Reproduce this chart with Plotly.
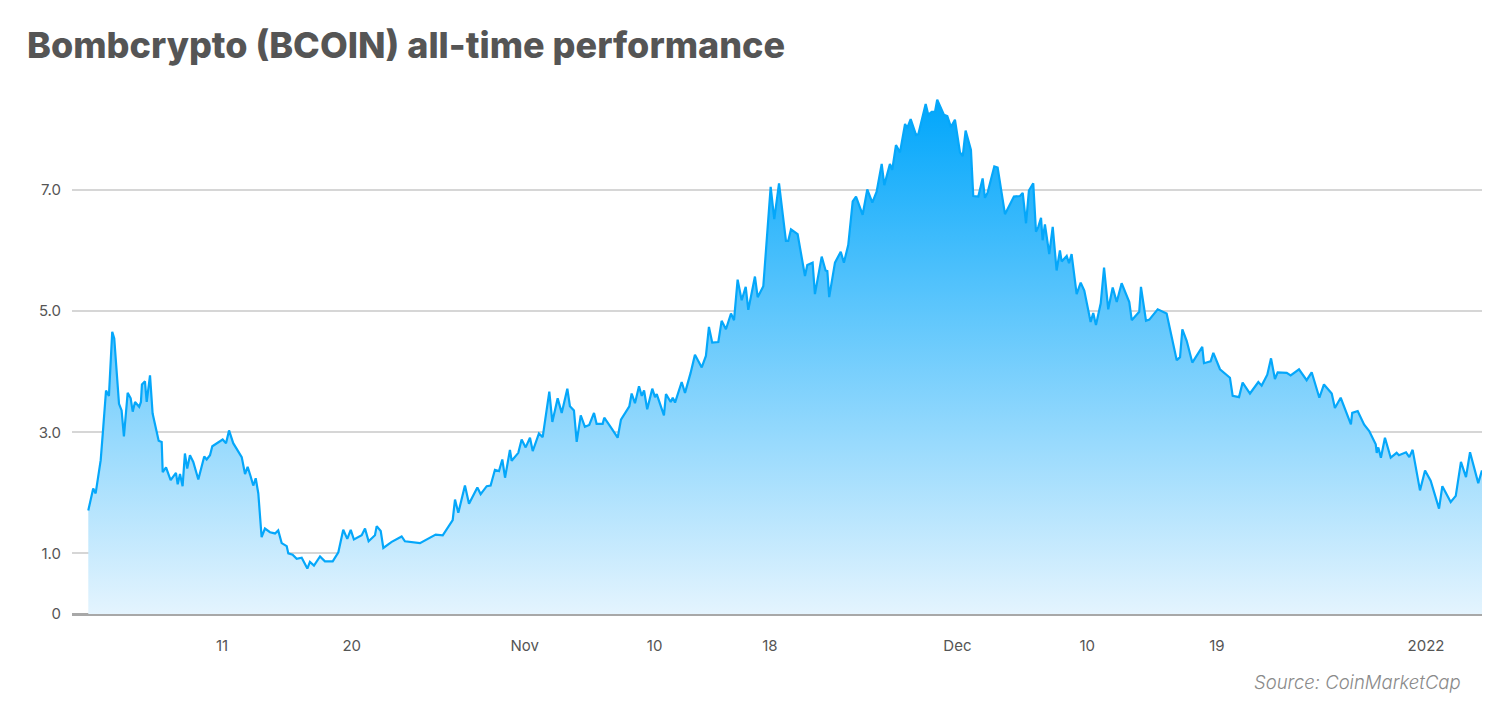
import pandas as pd
import plotly.graph_objects as go

# Days after 2021-10-11 00:00 and BCOIN price (USD)
days = [
    -9.27, -8.93, -8.76, -8.58, -8.41, -8.23, -8.04, -7.84, -7.61, -7.47,
    -7.30, -7.14, -6.96, -6.80, -6.54, -6.33, -6.19, -6.03, -5.74, -5.62,
    -5.55, -5.34, -5.22, -4.99, -4.81, -4.65, -4.39, -4.18, -4.11, -3.88,
    -3.56, -3.19, -3.07, -2.91, -2.73, -2.57, -2.41, -2.22, -1.99, -1.64,
    -1.41, -1.23, -1.06, -0.83, -0.67, -0.26, 0.05, 0.28, 0.49, 0.78,
    1.02, 1.37, 1.60, 1.78, 1.99, 2.17, 2.34, 2.52, 2.75, 2.98,
    3.33, 3.68, 3.90, 4.14, 4.49, 4.60, 4.90, 5.18, 5.53, 5.92,
    6.10, 6.38, 6.80, 7.14, 7.68, 8.07, 8.41, 8.69, 8.93, 9.15,
    9.69, 9.92, 10.17, 10.61, 10.73, 11.01, 11.19, 11.77, 12.46, 12.69,
    13.73, 14.82, 15.31, 16.00, 16.16, 16.39, 16.85, 17.13, 17.71, 17.94,
    18.36, 18.63, 18.93, 19.21, 19.44, 19.63, 19.97, 20.09, 20.55, 20.78,
    21.06, 21.36, 21.55, 21.98, 22.24, 22.70, 22.91, 23.28, 23.56, 23.95,
    24.13, 24.41, 24.60, 24.88, 25.17, 25.47, 25.80, 25.98, 26.40, 26.51,
    27.03, 27.44, 27.67, 28.25, 28.41, 28.64, 28.92, 29.11, 29.27, 29.49,
    29.84, 30.03, 30.15, 30.37, 30.65, 30.79, 31.12, 31.26, 31.42, 31.88,
    32.11, 32.50, 32.80, 33.27, 33.56, 33.77, 34.00, 34.42, 34.65, 34.95,
    35.30, 35.51, 35.76, 36.04, 36.32, 36.50, 36.96, 37.15, 37.54, 38.05,
    38.30, 38.63, 39.11, 39.27, 39.46, 39.92, 40.43, 40.59, 40.96, 41.12,
    41.59, 41.86, 41.98, 42.11, 42.51, 42.91, 43.13, 43.43, 43.74, 43.97,
    44.43, 44.75, 45.10, 45.40, 45.75, 45.93, 46.32, 46.48, 46.74, 47.02,
    47.37, 47.52, 47.76, 48.13, 48.29, 48.80, 48.98, 49.22, 49.45, 49.60,
    50.07, 50.30, 50.55, 50.83, 51.18, 51.37, 51.57, 51.94, 52.10, 52.45,
    52.75, 52.91, 53.10, 53.56, 53.79, 54.30, 54.92, 55.34, 55.53, 55.76,
    55.96, 56.26, 56.45, 56.61, 56.80, 56.91, 57.07, 57.37, 57.61, 57.88,
    58.11, 58.23, 58.58, 58.74, 58.92, 59.27, 59.55, 59.80, 60.24, 60.42,
    60.61, 60.94, 61.17, 61.46, 61.77, 62.05, 62.39, 62.92, 63.09, 63.61,
    63.73, 64.08, 64.31, 64.89, 65.51, 66.21, 66.44, 66.60, 66.90, 67.29,
    67.98, 68.10, 68.56, 68.75, 69.21, 69.90, 70.09, 70.53, 70.78, 71.29,
    71.87, 72.10, 72.49, 72.75, 73.02, 73.21, 73.84, 74.11, 74.69, 75.22,
    75.57, 76.10, 76.42, 76.96, 77.18, 77.58, 78.29, 78.38, 78.76, 79.20,
    79.56, 80.01, 80.08, 80.19, 80.37, 80.65, 81.05, 81.46, 81.62, 82.11,
    82.34, 82.57, 83.08, 83.43, 83.82, 84.40, 84.63, 85.21, 85.56, 85.92,
    86.27, 86.55, 87.12, 87.38,
]

prices = [
    1.71, 2.07, 1.99, 2.26, 2.54, 3.09, 3.69, 3.60, 4.66, 4.55,
    4.03, 3.47, 3.36, 2.93, 3.65, 3.56, 3.34, 3.50, 3.42, 3.50,
    3.79, 3.84, 3.50, 3.94, 3.31, 3.14, 2.86, 2.84, 2.34, 2.42,
    2.21, 2.33, 2.14, 2.31, 2.11, 2.65, 2.40, 2.62, 2.51, 2.22,
    2.44, 2.60, 2.55, 2.62, 2.77, 2.84, 2.88, 2.82, 3.03, 2.82,
    2.73, 2.59, 2.31, 2.43, 2.27, 2.12, 2.24, 1.99, 1.27, 1.41,
    1.35, 1.33, 1.38, 1.17, 1.12, 1.00, 0.98, 0.91, 0.93, 0.75,
    0.86, 0.80, 0.95, 0.87, 0.87, 1.02, 1.39, 1.24, 1.39, 1.23,
    1.30, 1.41, 1.20, 1.30, 1.45, 1.37, 1.09, 1.19, 1.28, 1.20,
    1.17, 1.31, 1.30, 1.55, 1.89, 1.67, 2.12, 1.82, 2.09, 1.98,
    2.11, 2.12, 2.38, 2.36, 2.55, 2.25, 2.71, 2.53, 2.66, 2.88,
    2.75, 2.91, 2.69, 2.98, 2.92, 3.67, 3.17, 3.56, 3.32, 3.72,
    3.43, 3.36, 2.84, 3.28, 3.09, 3.12, 3.32, 3.14, 3.14, 3.24,
    3.06, 2.91, 3.21, 3.43, 3.64, 3.48, 3.76, 3.60, 3.69, 3.38,
    3.72, 3.58, 3.63, 3.47, 3.28, 3.63, 3.50, 3.57, 3.49, 3.83,
    3.65, 3.98, 4.28, 4.07, 4.26, 4.74, 4.48, 4.49, 4.84, 4.70,
    4.96, 4.85, 5.52, 5.18, 5.40, 5.02, 5.57, 5.23, 5.41, 7.05,
    6.52, 7.11, 6.16, 6.16, 6.35, 6.27, 5.58, 5.76, 5.80, 5.28,
    5.90, 5.67, 5.66, 5.23, 5.80, 5.98, 5.80, 6.09, 6.81, 6.89,
    6.59, 7.01, 6.79, 6.97, 7.43, 7.08, 7.43, 7.33, 7.74, 7.62,
    8.09, 8.02, 8.17, 7.91, 7.92, 8.42, 8.24, 8.29, 8.29, 8.49,
    8.24, 8.22, 8.04, 8.16, 7.62, 7.56, 7.98, 7.66, 6.90, 6.89,
    7.19, 6.87, 6.96, 7.39, 7.37, 6.60, 6.89, 6.90, 6.95, 6.45,
    6.99, 7.11, 6.31, 6.39, 6.54, 6.17, 6.43, 5.94, 6.39, 5.67,
    6.00, 5.82, 5.91, 5.79, 5.94, 5.28, 5.47, 5.34, 4.82, 4.97,
    4.77, 5.13, 5.72, 5.03, 5.39, 5.15, 5.46, 5.15, 4.85, 4.99,
    5.40, 4.84, 4.86, 5.03, 4.96, 4.19, 4.24, 4.70, 4.51, 4.15,
    4.41, 4.14, 4.17, 4.31, 4.04, 3.90, 3.60, 3.58, 3.82, 3.64,
    3.83, 3.77, 3.95, 4.22, 3.88, 3.99, 3.98, 3.94, 4.04, 3.86,
    3.99, 3.57, 3.79, 3.64, 3.40, 3.57, 3.13, 3.32, 3.35, 3.13,
    3.02, 2.80, 2.66, 2.75, 2.58, 2.91, 2.58, 2.66, 2.62, 2.67,
    2.59, 2.71, 2.04, 2.37, 2.20, 1.74, 2.11, 1.85, 1.95, 2.51,
    2.26, 2.67, 2.16, 2.37,
]

base_date = "2021-10-11"
tick_dates = ["2021-10-11 00:00", "2021-10-20 00:00", "2021-11-01 00:00", "2021-11-10 00:00",
              "2021-11-18 00:00", "2021-12-01 00:00", "2021-12-10 00:00", "2021-12-19 00:00",
              "2022-01-02 12:00"]
tick_labels = ["11", "20", "Nov", "10", "18", "Dec", "10", "19", "2022"]
y_ticks = [0, 1, 3, 5, 7]
y_tick_labels = ["0", "1.0", "3.0", "5.0", "7.0"]
x_range_days = [-10.40, 87.38]

base = pd.Timestamp(base_date)
dates = base + pd.to_timedelta(days, unit="D")
x_range = [base + pd.Timedelta(days=d) for d in x_range_days]
tick_vals = [pd.Timestamp(t) for t in tick_dates]

fig = go.Figure()
fig.add_trace(go.Scatter(
    x=dates, y=prices, mode="lines",
    line=dict(color="#05a7fa", width=2.2),
    fill="tozeroy",
    fillgradient=dict(type="vertical", start=0, stop=8.5,
                      colorscale=[[0, "#e4f4fe"], [1, "#00a6fb"]]),
    hoverinfo="x+y", showlegend=False,
))

fig.update_layout(
    width=1500, height=712,
    margin=dict(l=64, r=26, t=82, b=106, pad=0),
    paper_bgcolor="white", plot_bgcolor="white",
    title=dict(text="Bombcrypto (BCOIN) all-time performance",
               x=19 / 1500, xanchor="left", xref="container",
               y=1 - 37 / 712, yanchor="middle", yref="container",
               font=dict(family="Inter", size=36, color="#555555", weight=800)),
    font=dict(family="Inter", size=15, color="#555555"),
    xaxis=dict(range=x_range, tickvals=tick_vals, ticktext=tick_labels,
               showgrid=False, zeroline=False, showline=False, ticks="",
               ticklabelstandoff=21, tickfont=dict(size=15, color="#555555")),
    yaxis=dict(range=[0, 8.65], tickvals=y_ticks, ticktext=y_tick_labels,
               showgrid=True, gridcolor="#d6d6d6", gridwidth=2,
               zeroline=True, zerolinecolor="#a8a8a8", zerolinewidth=3,
               showline=False, ticks="", ticklabelstandoff=10,
               tickfont=dict(size=15, color="#555555")),
    annotations=[dict(text="Source: CoinMarketCap", xref="paper", yref="paper",
                      x=(1463 - 72) / 1410, y=(614 - 682) / 524,
                      xanchor="right", yanchor="middle", showarrow=False,
                      font=dict(family="Inter", size=18.5, color="#8a8a8a",
                                style="italic", weight=300))],
)

fig.write_html("out.html")
